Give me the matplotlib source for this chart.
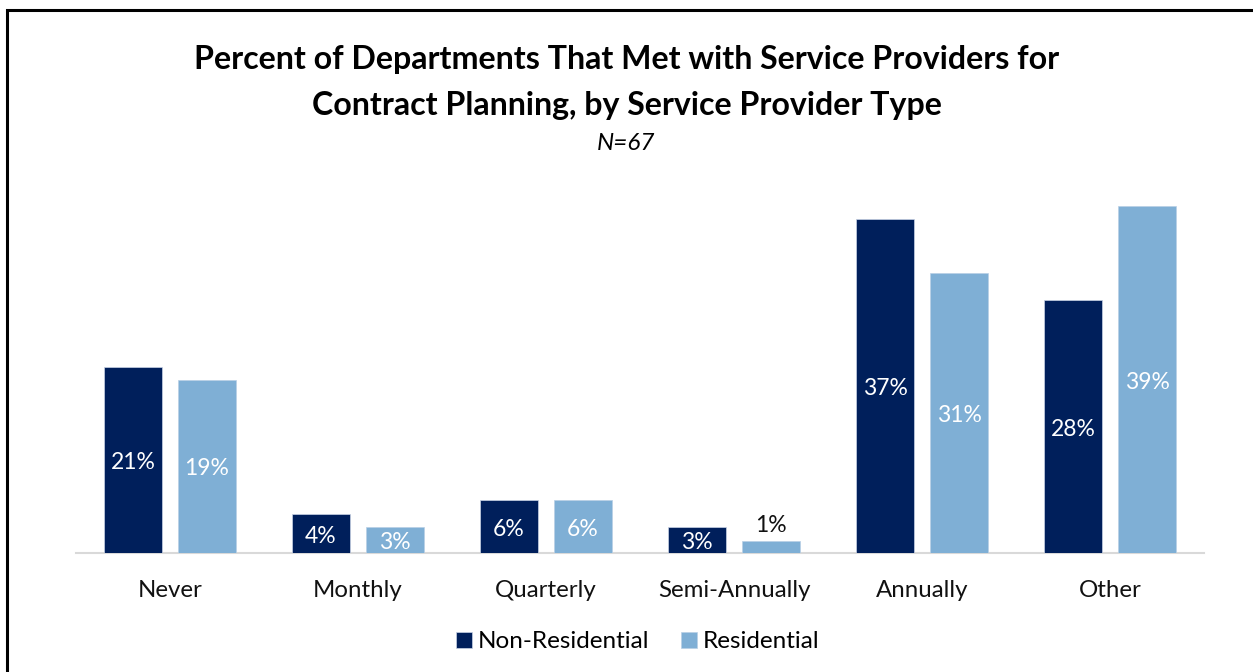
import matplotlib
matplotlib.use("Agg")
import matplotlib.pyplot as plt
from matplotlib.patches import Rectangle
import numpy as np

categories = ["Never", "Monthly", "Quarterly", "Semi-Annually", "Annually", "Other"]
non_residential = [20.8, 4.4, 5.9, 2.9, 37.4, 28.3]
residential = [19.4, 2.9, 5.9, 1.3, 31.3, 38.8]
series_names = ["Non-Residential", "Residential"]
title_lines = ["Percent of Departments That Met with Service Providers for",
               "Contract Planning, by Service Provider Type"]
subtitle = "N=67"

NAVY = "#001F5B"
LIGHT = "#7FAFD5"
FONT = "Lato"

plt.rcParams['font.family'] = [FONT, 'DejaVu Sans']

W, H = 1253, 672
fig = plt.figure(figsize=(W / 100, H / 100), dpi=100)
fig.patch.set_facecolor("white")

# border
fig.add_artist(Rectangle((7 / W, -0.05), 1.2, (H - 10) / H + 0.05, transform=fig.transFigure,
                         fill=False, edgecolor="black", linewidth=2.2))

ax = fig.add_axes([76 / W, (H - 553) / H, 1128 / W, 363 / H])
x = np.arange(len(categories))
bw = 0.31
off = 0.197
b1 = ax.bar(x - off, non_residential, bw, color=NAVY, edgecolor="#c9d3e6", linewidth=0.5,
            label=series_names[0], zorder=3)
b2 = ax.bar(x + off, residential, bw, color=LIGHT, edgecolor="#b9d0e6", linewidth=0.5,
            label=series_names[1], zorder=3)

ax.set_xlim(-0.5, len(categories) - 0.5)
ax.set_ylim(0, 40.6)
for s in ["top", "right", "left"]:
    ax.spines[s].set_visible(False)
ax.spines["bottom"].set_color("#d9d9d9")
ax.spines["bottom"].set_linewidth(1.5)
ax.set_yticks([])
ax.set_xticks(x)
ax.set_xticklabels(categories, fontsize=17.3, color="#111111")
ax.tick_params(axis="x", length=0, pad=19.5)

for bars in (b1, b2):
    for r in bars:
        v = r.get_height()
        cx = r.get_x() + r.get_width() / 2
        txt = f"{v:.0f}%"
        if v < 2:
            ax.text(cx, v + 0.6, txt, ha="center", va="bottom", fontsize=16.5, color="#111111", zorder=4)
        else:
            ax.text(cx, v / 2 - 0.3, txt, ha="center", va="center", fontsize=16.5, color="white", zorder=4)

fig.text(0.5, (H - 60) / H, title_lines[0], ha="center", va="center", fontsize=23.1, fontweight="bold")
fig.text(0.5, (H - 105) / H, title_lines[1], ha="center", va="center", fontsize=23.1, fontweight="bold")
fig.text(0.5, (H - 143) / H, subtitle, ha="center", va="center", fontsize=17.5, style="italic")

leg = fig.legend(handles=[b1, b2], labels=series_names, loc="center",
                 bbox_to_anchor=(0.5 + 11 / W, (H - 642) / H),
                 ncol=2, frameon=False, fontsize=17.5, handlelength=0.65, handleheight=0.65,
                 handletextpad=0.25, columnspacing=1.3)

fig.savefig("out.png", dpi=100, facecolor="white")
